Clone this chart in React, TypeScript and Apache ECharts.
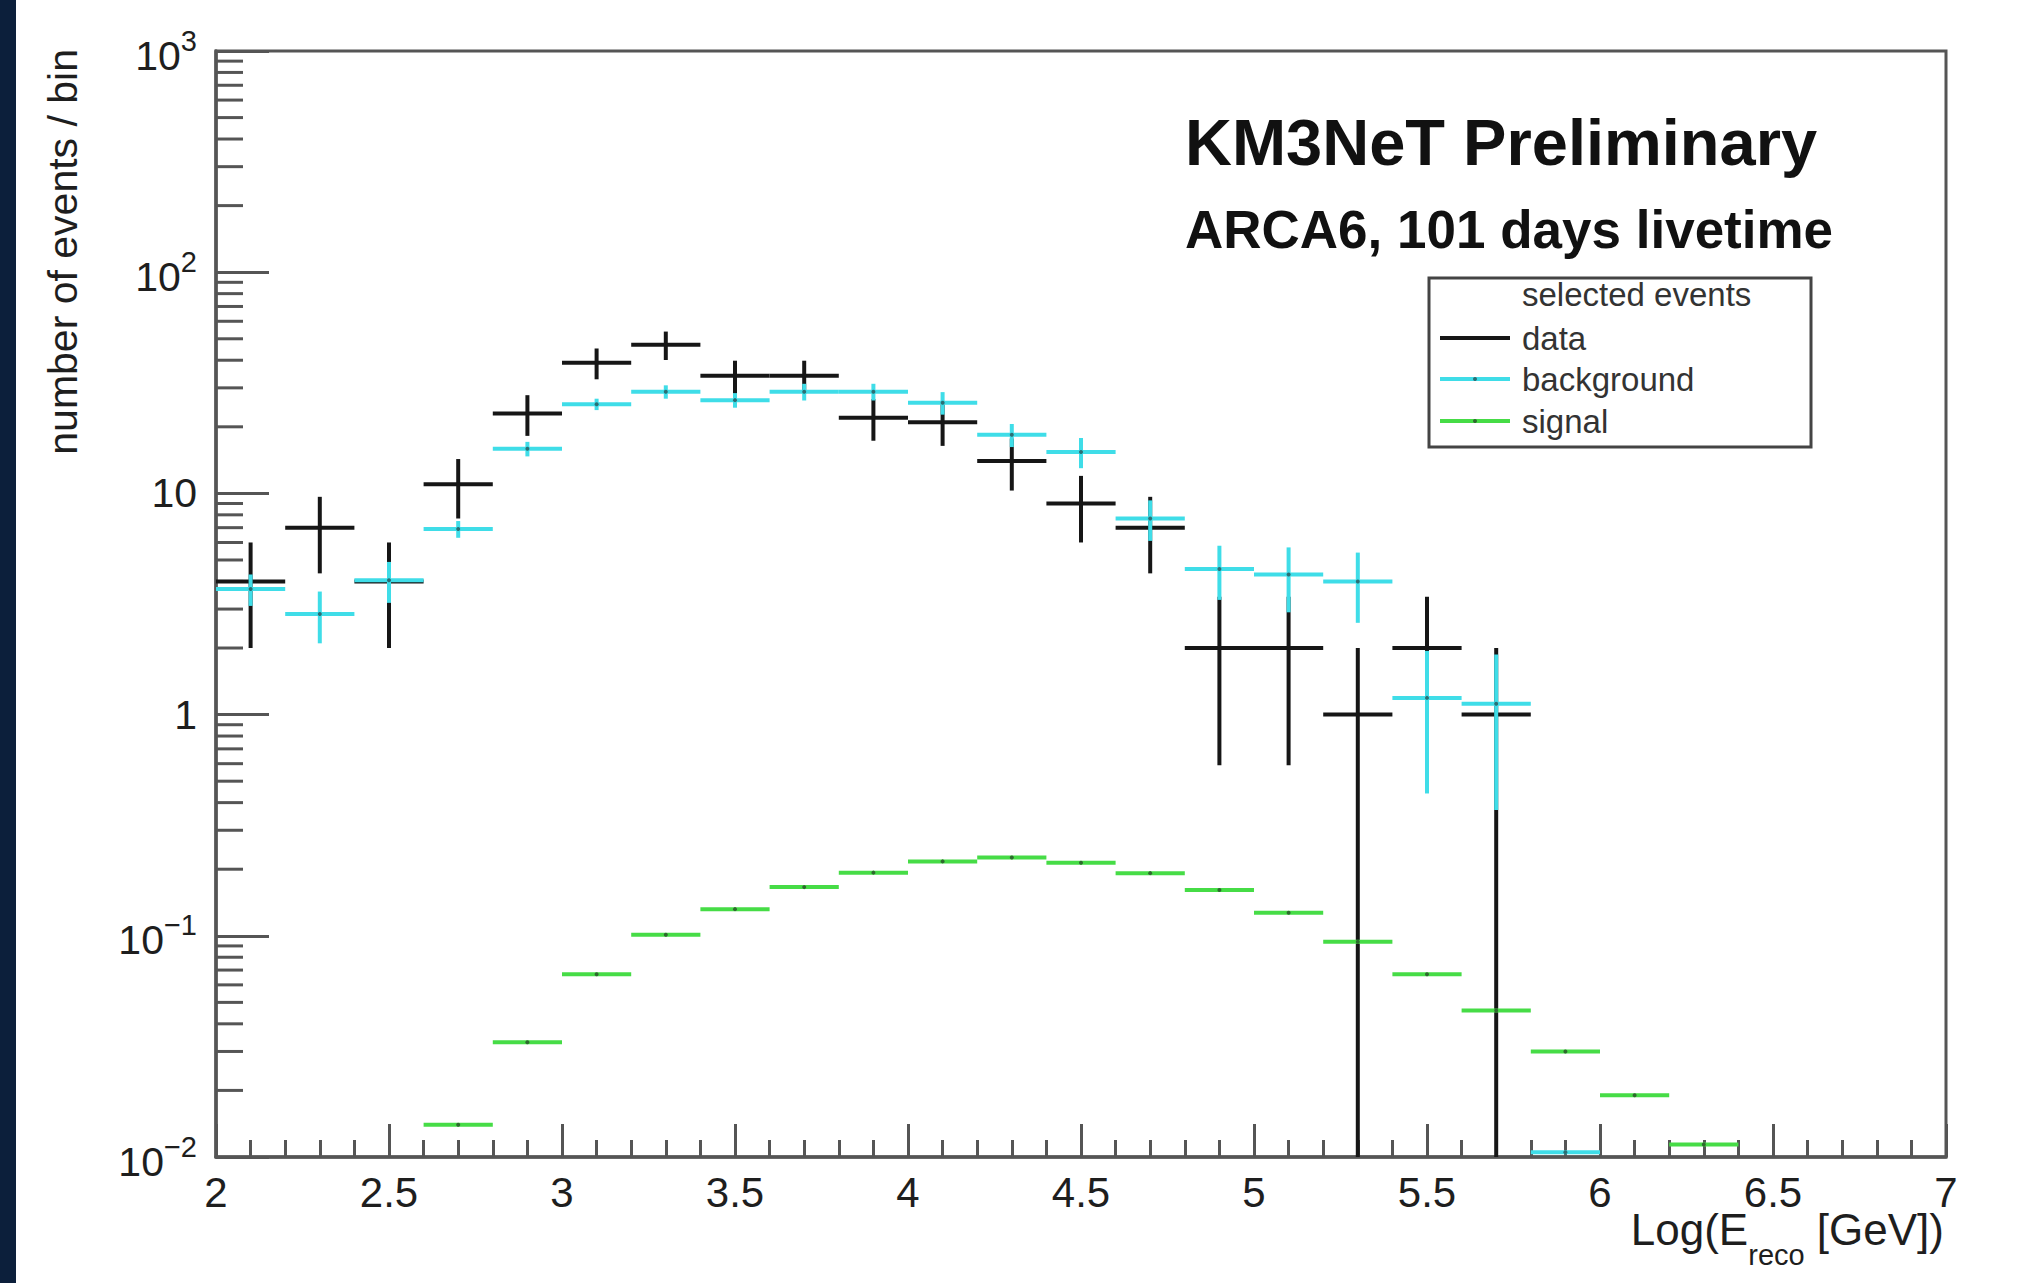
import { useEffect, useRef } from "react";
import * as echarts from "echarts";

const FONT = "'Liberation Sans', Arial, Helvetica, sans-serif";

// bin width of the histograms (Log10 E)
const BIN_WIDTH = 0.2;
const Y_MIN = 0.01;
const Y_MAX = 1000;

// data (black): bin centres, counts, Poisson errors
const dataX = [2.1, 2.3, 2.5, 2.7, 2.9, 3.1, 3.3, 3.5, 3.7, 3.9, 4.1, 4.3, 4.5, 4.7, 4.9, 5.1, 5.3, 5.5, 5.7];
const dataCounts = [4, 7, 4, 11, 23, 39, 47, 34, 34, 22, 21, 14, 9, 7, 2, 2, 1, 2, 1];
const dataErrors = [2, 2.65, 2, 3.3, 4.8, 6.2, 6.9, 5.8, 5.8, 4.7, 4.6, 3.7, 3, 2.65, 1.41, 1.41, 1, 1.41, 1];

// background (cyan)
const bgX = [2.1, 2.3, 2.5, 2.7, 2.9, 3.1, 3.3, 3.5, 3.7, 3.9, 4.1, 4.3, 4.5, 4.7, 4.9, 5.1, 5.3, 5.5, 5.7, 5.9];
const bgValues = [3.7, 2.85, 4.05, 6.9, 15.9, 25.3, 28.8, 26.4, 28.8, 28.8, 25.7, 18.4, 15.4, 7.7, 4.55, 4.3, 4.0, 1.19, 1.12, 0.0105];
const bgErrors = [0.6, 0.75, 0.85, 0.6, 1.2, 1.5, 2.0, 2.0, 2.5, 2.5, 3.0, 2.2, 2.4, 1.6, 1.25, 1.4, 1.4, 0.75, 0.75, 0];

// signal (green)
const sigX = [2.7, 2.9, 3.1, 3.3, 3.5, 3.7, 3.9, 4.1, 4.3, 4.5, 4.7, 4.9, 5.1, 5.3, 5.5, 5.7, 5.9, 6.1, 6.3];
const sigValues = [0.014, 0.033, 0.067, 0.101, 0.132, 0.166, 0.193, 0.217, 0.226, 0.214, 0.192, 0.161, 0.127, 0.094, 0.067, 0.046, 0.030, 0.019, 0.0114];

// log-axis minor tick structure
const minorMantissas = [2, 3, 4, 5, 6, 7, 8, 9];
const decades = [0.01, 0.1, 1, 10, 100];

// x tick labels are produced by the axis (2 .. 7 step 0.5)

const COLORS = {
  data: "#161616",
  background: "#3fdde8",
  signal: "#46dc46",
  axis: "#555555",
  text: "#1e1e1e",
};

// plot frame (pixels)
const GRID = { left: 216, top: 51, width: 1730, height: 1106 };

function makeRender(color: string, dotColor: string | null) {
  return (params: any, api: any) => {
    const x = api.value(0);
    const y = api.value(1);
    const e = api.value(2);
    const half = BIN_WIDTH / 2;
    const a = api.coord([x - half, y]);
    const b = api.coord([x + half, y]);
    const c = api.coord([x, y]);
    const children: any[] = [
      {
        type: "line",
        shape: { x1: a[0], y1: a[1], x2: b[0], y2: b[1] },
        style: { stroke: color, lineWidth: 4 },
      },
    ];
    if (e > 0) {
      const top = api.coord([x, Math.min(y + e, Y_MAX)]);
      const bot = api.coord([x, Math.max(y - e, Y_MIN)]);
      children.push({
        type: "line",
        shape: { x1: top[0], y1: top[1], x2: bot[0], y2: bot[1] },
        style: { stroke: color, lineWidth: 4 },
      });
    }
    if (dotColor) {
      children.push({
        type: "circle",
        shape: { cx: c[0], cy: c[1], r: 2 },
        style: { fill: dotColor },
      });
    }
    return { type: "group", children };
  };
}

function yLabel(v: number) {
  const e = Math.round(Math.log10(v));
  if (e === 0) return "{p|1}";
  if (e === 1) return "{p|10}";
  const exp = e < 0 ? "\u2212" + String(-e) : String(e);
  return "{b|10}{s|" + exp + "}";
}

export default function App() {
  const ref = useRef<HTMLDivElement>(null);

  useEffect(() => {
    if (!ref.current) return;
    const chart = echarts.init(ref.current, null, { renderer: "svg" });

    const minorTickData: number[][] = [];
    decades.forEach((d) => minorMantissas.forEach((m) => minorTickData.push([2, m * d])));

    const legendRows = [
      { label: "data", color: COLORS.data, dot: null as string | null, y: 338 },
      { label: "background", color: COLORS.background, dot: "#2a6f74", y: 379 },
      { label: "signal", color: COLORS.signal, dot: "#2d6a2d", y: 421 },
    ];

    const legendGraphics: any[] = [
      {
        type: "rect",
        shape: { x: 1429, y: 278, width: 382, height: 169 },
        style: { fill: "#ffffff", stroke: "#444444", lineWidth: 3 },
        z: 10,
      },
      {
        type: "text",
        x: 1522,
        y: 294,
        style: {
          text: "selected events",
          font: "33px " + FONT,
          fill: "#333333",
          align: "left",
          verticalAlign: "middle",
        },
        z: 11,
      },
    ];
    legendRows.forEach((r) => {
      legendGraphics.push({
        type: "line",
        shape: { x1: 1440, y1: r.y, x2: 1510, y2: r.y },
        style: { stroke: r.color, lineWidth: 4 },
        z: 11,
      });
      if (r.dot) {
        legendGraphics.push({
          type: "circle",
          shape: { cx: 1475, cy: r.y, r: 2 },
          style: { fill: r.dot },
          z: 12,
        });
      }
      legendGraphics.push({
        type: "text",
        x: 1522,
        y: r.y,
        style: {
          text: r.label,
          font: "33px " + FONT,
          fill: "#333333",
          align: "left",
          verticalAlign: "middle",
        },
        z: 11,
      });
    });

    const option: any = {
      animation: false,
      backgroundColor: "#ffffff",
      grid: {
        left: GRID.left,
        top: GRID.top,
        width: GRID.width,
        height: GRID.height,
        show: true,
        borderColor: COLORS.axis,
        borderWidth: 3,
        backgroundColor: "transparent",
      },
      xAxis: {
        type: "value",
        min: 2,
        max: 7,
        interval: 0.5,
        axisLine: { show: true, onZero: false, lineStyle: { color: COLORS.axis, width: 3.5 } },
        axisTick: { show: true, inside: true, length: 33, lineStyle: { color: COLORS.axis, width: 3 } },
        minorTick: { show: true, splitNumber: 5, length: 17, lineStyle: { color: COLORS.axis, width: 3 } },
        splitLine: { show: false },
        axisLabel: {
          show: true,
          margin: 14,
          fontSize: 42,
          fontFamily: FONT,
          color: COLORS.text,
          showMinLabel: true,
          showMaxLabel: true,
        },
      },
      yAxis: {
        type: "log",
        logBase: 10,
        min: Y_MIN,
        max: Y_MAX,
        axisLine: { show: true, lineStyle: { color: COLORS.axis, width: 3.5 } },
        axisTick: { show: true, inside: true, length: 53, lineStyle: { color: COLORS.axis, width: 3 } },
        splitLine: { show: false },
        axisLabel: {
          show: true,
          margin: 19,
          color: COLORS.text,
          fontFamily: FONT,
          formatter: yLabel,
          rich: {
            p: { fontSize: 41, fontFamily: FONT, color: COLORS.text },
            b: { fontSize: 41, fontFamily: FONT, color: COLORS.text, verticalAlign: "bottom", lineHeight: 50 },
            s: { fontSize: 29, fontFamily: FONT, color: COLORS.text, verticalAlign: "top" },
          },
        },
      },
      series: [
        {
          name: "minor ticks",
          type: "custom",
          silent: true,
          clip: false,
          encode: { x: 0, y: 1 },
          data: minorTickData,
          renderItem: (params: any, api: any) => {
            const p = api.coord([api.value(0), api.value(1)]);
            return {
              type: "line",
              shape: { x1: p[0], y1: p[1], x2: p[0] + 27, y2: p[1] },
              style: { stroke: COLORS.axis, lineWidth: 3 },
            };
          },
        },
        {
          name: "data",
          type: "custom",
          clip: true,
          encode: { x: 0, y: 1 },
          data: dataX.map((x, i) => [x, dataCounts[i], dataErrors[i]]),
          renderItem: makeRender(COLORS.data, null),
        },
        {
          name: "background",
          type: "custom",
          clip: true,
          encode: { x: 0, y: 1 },
          data: bgX.map((x, i) => [x, bgValues[i], bgErrors[i]]),
          renderItem: makeRender(COLORS.background, "#2a6f74"),
        },
        {
          name: "signal",
          type: "custom",
          clip: true,
          encode: { x: 0, y: 1 },
          data: sigX.map((x, i) => [x, sigValues[i], 0]),
          renderItem: makeRender(COLORS.signal, "#2d6a2d"),
        },
      ],
      graphic: [
        {
          type: "rect",
          shape: { x: 0, y: 0, width: 16, height: 1283 },
          style: { fill: "#0c1f3b" },
          silent: true,
        },
        {
          type: "text",
          x: 63,
          y: 49,
          rotation: Math.PI / 2,
          style: {
            text: "number of events / bin",
            font: "41px " + FONT,
            fill: COLORS.text,
            align: "right",
            verticalAlign: "middle",
          },
        },
        {
          type: "text",
          x: 1185,
          y: 142,
          style: {
            text: "KM3NeT Preliminary",
            font: "bold 65px " + FONT,
            fill: "#111111",
            align: "left",
            verticalAlign: "middle",
          },
        },
        {
          type: "text",
          x: 1185,
          y: 229,
          style: {
            text: "ARCA6, 101 days livetime",
            font: "bold 53px " + FONT,
            fill: "#111111",
            align: "left",
            verticalAlign: "middle",
          },
        },
        {
          type: "text",
          x: 1944,
          y: 1207,
          style: {
            text: "{m|Log(E}{sub|reco}{m| [GeV])}",
            align: "right",
            verticalAlign: "top",
            rich: {
              m: { fontSize: 44, fontFamily: FONT, fill: COLORS.text, verticalAlign: "top" },
              sub: { fontSize: 29, fontFamily: FONT, fill: COLORS.text, verticalAlign: "bottom", lineHeight: 62 },
            },
          },
        },
        ...legendGraphics,
      ],
    };

    chart.setOption(option);
    return () => chart.dispose();
  }, []);

  return (
    <div
      ref={ref}
      style={{ position: "fixed", left: 0, top: 0, width: "2025px", height: "1283px", background: "#ffffff" }}
    />
  );
}
